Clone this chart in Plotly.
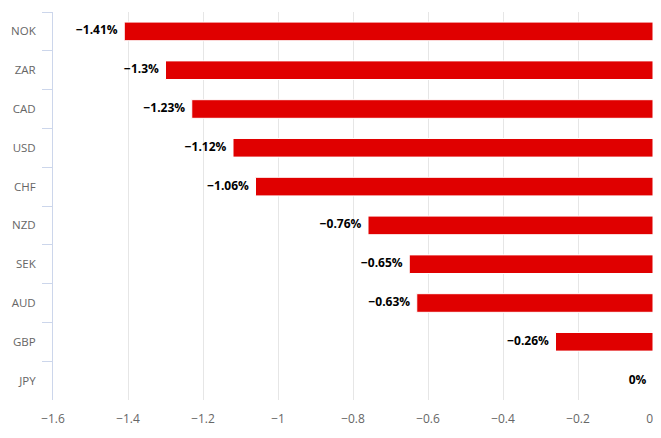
import plotly.graph_objects as go

currencies = ["NOK", "ZAR", "CAD", "USD", "CHF", "NZD", "SEK", "AUD", "GBP", "JPY"]
changes = [-1.41, -1.3, -1.23, -1.12, -1.06, -0.76, -0.65, -0.63, -0.26, 0]
labels = ["−1.41%", "−1.3%", "−1.23%", "−1.12%", "−1.06%", "−0.76%", "−0.65%", "−0.63%", "−0.26%", "0%"]
x_ticks = [-1.6, -1.4, -1.2, -1, -0.8, -0.6, -0.4, -0.2, 0]
x_tick_labels = ["−1.6", "−1.4", "−1.2", "−1", "−0.8", "−0.6", "−0.4", "−0.2", "0\u2007"]

font_family = "Open Sans, Verdana, Arial, sans-serif"

fig = go.Figure()
fig.add_trace(go.Bar(
    y=currencies,
    x=changes,
    orientation="h",
    marker=dict(color="#e00000", line=dict(color="#ffffff", width=1)),
    width=0.48,
    textposition="none",
    hoverinfo="skip",
))
fig.add_trace(go.Scatter(
    y=currencies,
    x=changes,
    mode="markers+text",
    marker=dict(size=9, color="rgba(0,0,0,0)"),
    text=labels,
    textposition="middle left",
    textfont=dict(family=font_family, size=12, color="#000000", weight="bold"),
    hoverinfo="skip",
    cliponaxis=False,
))

# page body has an 8px default margin: figure is placed at (8, 8)
fig.update_layout(
    width=653,
    height=430,
    autosize=False,
    margin=dict(l=45, r=8, t=4, b=38, pad=0),
    paper_bgcolor="#ffffff",
    plot_bgcolor="#ffffff",
    showlegend=False,
    font=dict(family=font_family, size=11, color="#666666"),
    xaxis=dict(
        range=[-1.6, 0],
        tickvals=x_ticks,
        ticktext=x_tick_labels,
        showgrid=True,
        gridcolor="#e6e6e6",
        gridwidth=1,
        zeroline=False,
        showline=False,
        ticks="",
        ticklabelstandoff=10,
        ticklabeloverflow="allow",
        automargin=False,
        tickfont=dict(size=12, color="#666666"),
    ),
    yaxis=dict(
        categoryorder="array",
        categoryarray=currencies,
        range=[len(currencies) - 0.5, -0.5],
        showline=True,
        linecolor="#ccd6eb",
        linewidth=1,
        ticks="outside",
        tickson="boundaries",
        ticklen=10,
        tickcolor="#ccd6eb",
        ticklabelstandoff=14,
        showgrid=False,
        zeroline=False,
        automargin=False,
        tickfont=dict(size=11.5, color="#666666"),
    ),
    bargap=0.52,
)

fig.write_html("out.html")
